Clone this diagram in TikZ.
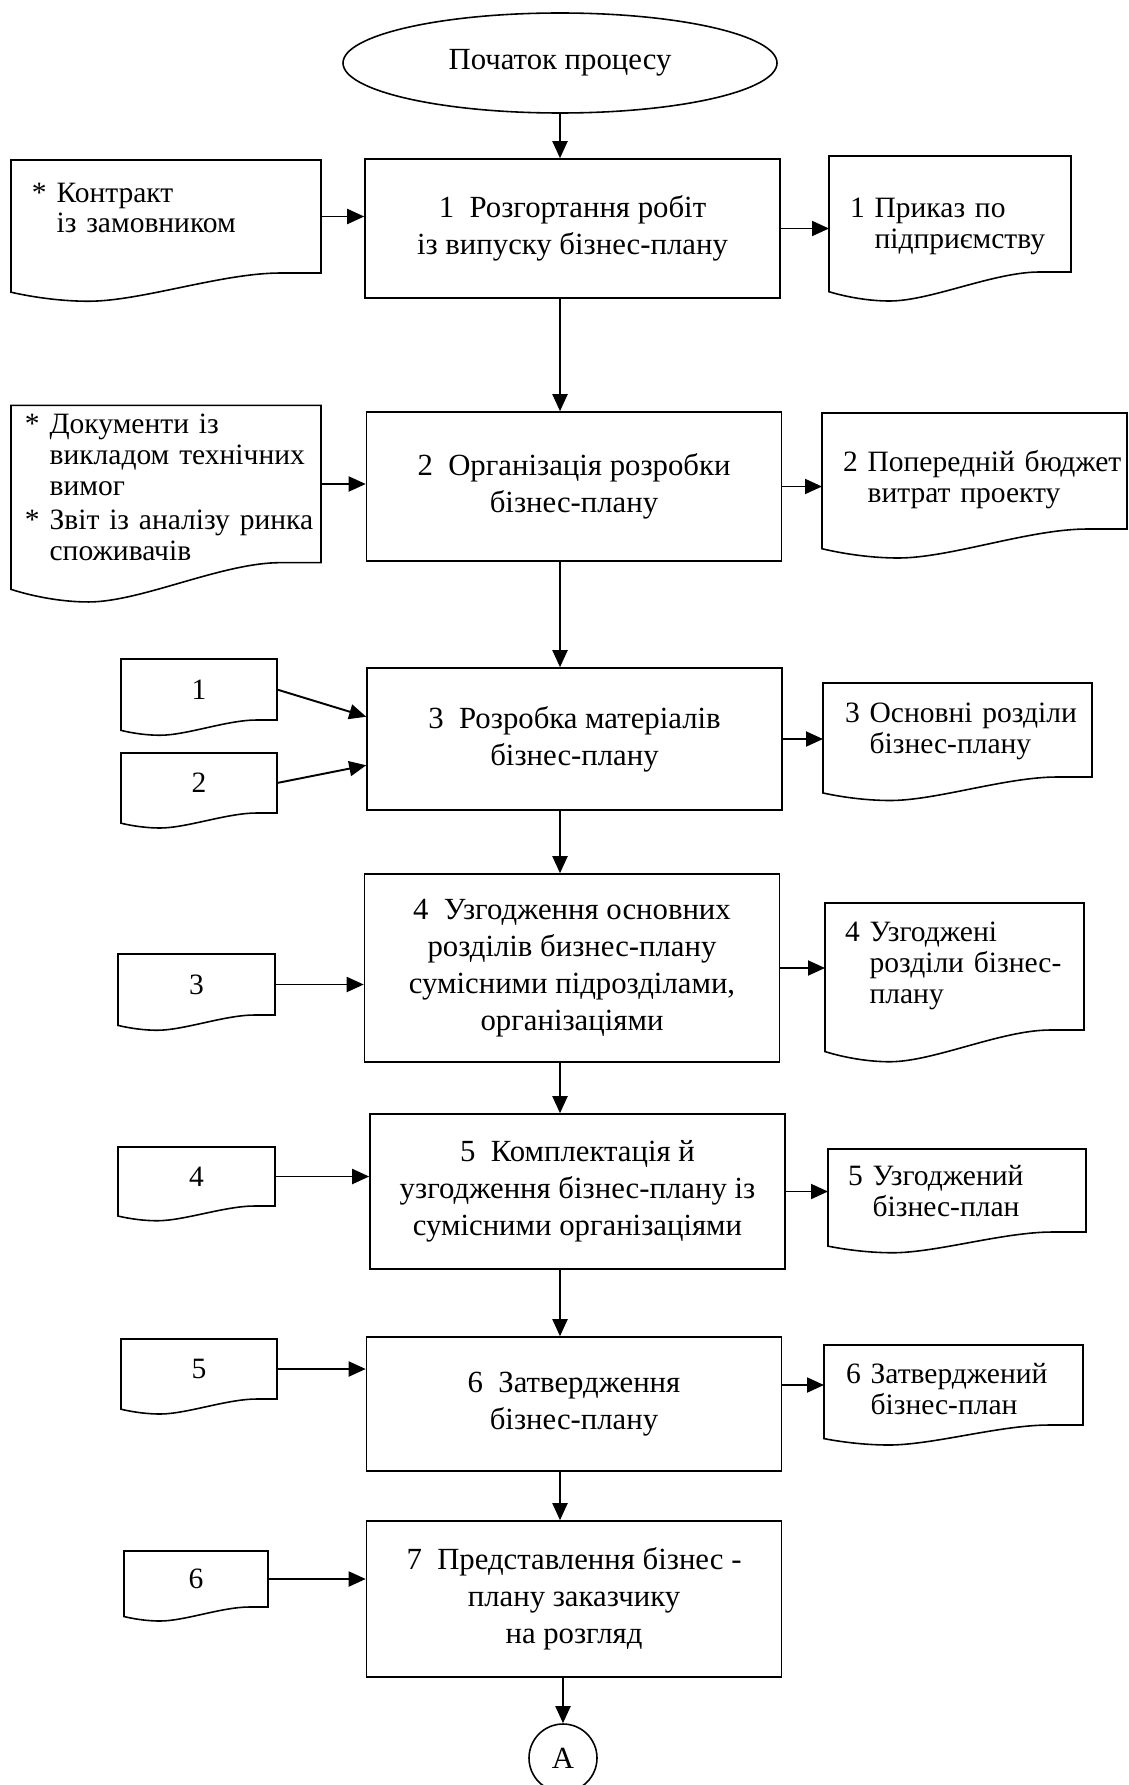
\documentclass[tikz,border=0pt]{standalone}
\usepackage{fontspec}
\setmainfont{Liberation Serif}
\usetikzlibrary{calc,arrows.meta,shapes.geometric}

\tikzset{
  procbox/.style={draw, rectangle, line width=0.9pt, minimum width=83mm, inner sep=0pt, align=center, font=\fontsize{17.5}{21}\selectfont},
  docbox/.style={rectangle, outer sep=0pt, inner sep=0pt, align=left, font=\fontsize{16.8}{17.5}\selectfont},
  arr/.style={-{Triangle[length=3.4mm,width=3mm]}, line width=1.1pt}
}

\newcommand{\docframe}[1]{%
  \draw[line width=0.9pt] let \p1=(#1.south west), \p2=(#1.north east), \n1={\x2-\x1}, \n2={\y2-\y1} in
    (\x2,\y1) -- (\x2,\y2) -- (\x1,\y2) -- (\x1,{\y1-0.17*\n2})
    .. controls ({\x1+0.08*\n1},{\y1-0.22*\n2}) and ({\x1+0.17*\n1},{\y1-0.25*\n2}) .. ({\x1+0.25*\n1},{\y1-0.25*\n2})
    .. controls ({\x1+0.42*\n1},{\y1-0.25*\n2}) and ({\x1+0.68*\n1},\y1) .. ({\x1+0.87*\n1},\y1) -- cycle;}
\newcommand{\dtxt}[2]{\raisebox{#1}[\height][\depth]{#2}}

\begin{document}
\begin{tikzpicture}[x=0.2mm,y=-0.2mm]
\useasboundingbox (0,0) rectangle (1128,1785);

\node[draw, ellipse, line width=0.9pt, minimum width=86.8mm, minimum height=20mm, inner sep=0pt, font=\fontsize{17.5}{21}\selectfont] (start) at (560,63) {Початок процесу};

\node[procbox, minimum height=27.8mm] (b1) at (572.5,228.5) {1~~Розгортання робіт\\із випуску бізнес-плану};
\node[procbox, minimum height=29.8mm] (b2) at (574,486.5) {2~~Організація розробки\\бізнес-плану};
\node[procbox, minimum height=28.4mm] (b3) at (574.5,739) {3~~Розробка матеріалів\\бізнес-плану};
\node[procbox, minimum height=37.6mm] (b4) at (572,968) {4~~Узгодження основних\\розділів бизнес-плану\\сумісними підрозділами,\\організаціями};
\node[procbox, minimum height=31mm] (b5) at (577.5,1191.5) {5~~Комплектація й\\узгодження бізнес-плану із\\сумісними організаціями};
\node[procbox, minimum height=26.8mm] (b6) at (574,1404) {6~~Затвердження\\бізнес-плану};
\node[procbox, minimum height=31.2mm] (b7) at (574,1599) {7~~Представлення бізнес -\\плану заказчику\\на розгляд};
\node[draw, circle, line width=0.9pt, minimum size=13.6mm, inner sep=0pt, font=\fontsize{17.5}{21}\selectfont] (conA) at (563,1758) {A};

\node[docbox, minimum width=62mm, minimum height=22.6mm, text width=53.6mm] (i1) at (166,216.5)
  {\dtxt{3pt}{\begin{tabular}{@{}l@{\ }l@{}}*&Контракт\\&із замовником\end{tabular}}};
\node[docbox, minimum width=62mm, minimum height=31.2mm, text width=56.4mm] (i2) at (166,484)
  {\dtxt{-4pt}{\begin{tabular}{@{}l@{\ }l@{}}*&Документи із\\&викладом технічних\\&вимог\\[2pt]*&Звіт із аналізу ринка\\&споживачів\end{tabular}}};

\node[docbox, minimum width=31.2mm, minimum height=12.2mm] (s1) at (199,689.5) {1};
\node[docbox, minimum width=31.2mm, minimum height=12mm] (s2) at (199,783) {2};
\node[docbox, minimum width=31.4mm, minimum height=12.2mm] (s3) at (196.5,984.5) {3};
\node[docbox, minimum width=31.4mm, minimum height=11.8mm] (s4) at (196.5,1176.5) {4};
\node[docbox, minimum width=31.2mm, minimum height=12mm] (s5) at (199,1369) {5};
\node[docbox, minimum width=28.8mm, minimum height=11.2mm] (s6) at (196,1579) {6};

\node[docbox, minimum width=48.4mm, minimum height=23.2mm, text width=40mm] (o1) at (950,214)
  {\dtxt{-7.5pt}{\begin{tabular}{@{}l@{\ }l@{}}1&Приказ по\\&підприємству\end{tabular}}};
\node[docbox, minimum width=61mm, minimum height=23.2mm, text width=52.6mm] (o2) at (974.5,471)
  {\dtxt{-5.5pt}{\begin{tabular}{@{}l@{\ }l@{}}2&Попередній бюджет\\&витрат проекту\end{tabular}}};
\node[docbox, minimum width=53.8mm, minimum height=18.8mm, text width=45mm] (o3) at (957.5,730)
  {\dtxt{-1pt}{\begin{tabular}{@{}l@{\ }l@{}}3&Основні розділи\\&бізнес-плану\end{tabular}}};
\node[docbox, minimum width=51.8mm, minimum height=25.4mm, text width=43.8mm] (o4) at (954.5,966.5)
  {\begin{tabular}{@{}l@{\ }l@{}}4&Узгоджені\\&розділи бізнес-\\&плану\end{tabular}};
\node[docbox, minimum width=51.6mm, minimum height=16.6mm, text width=43.6mm] (o5) at (957,1190.5)
  {\dtxt{-2.5pt}{\begin{tabular}{@{}l@{\ }l@{}}5&Узгоджений\\&бізнес-план\end{tabular}}};
\node[docbox, minimum width=51.8mm, minimum height=16mm, text width=43mm] (o6) at (953.5,1385)
  {\dtxt{-4.5pt}{\begin{tabular}{@{}l@{\ }l@{}}6&Затверджений\\&бізнес-план\end{tabular}}};

\foreach \nm in {i1,i2,s1,s2,s3,s4,s5,s6,o1,o2,o3,o4,o5,o6}
  \docframe{\nm};

\draw[arr] (start.south) -- (start.south |- b1.north);
\draw[arr] (b1.south -| start) -- (b2.north -| start);
\draw[arr] (b2.south -| start) -- (b3.north -| start);
\draw[arr] (b3.south -| start) -- (b4.north -| start);
\draw[arr] (b4.south -| start) -- (b5.north -| start);
\draw[arr] (b5.south -| start) -- (b6.north -| start);
\draw[arr] (b6.south -| start) -- (b7.north -| start);
\draw[arr] (b7.south -| conA) -- (conA.north);

\draw[arr] (i1.east) -- (i1.east -| b1.west);
\draw[arr] (i2.east) -- (i2.east -| b2.west);
\draw[arr] (s1.east) -- ($(b3.north west)!0.345!(b3.south west)$);
\draw[arr] (s2.east) -- ($(b3.north west)!0.683!(b3.south west)$);
\draw[arr] (s3.east) -- (s3.east -| b4.west);
\draw[arr] (s4.east) -- (s4.east -| b5.west);
\draw[arr] (s5.east) -- (s5.east -| b6.west);
\draw[arr] (s6.east) -- (s6.east -| b7.west);

\draw[arr] (b1.east) -- (b1.east -| o1.west);
\draw[arr] (b2.east) -- (b2.east -| o2.west);
\draw[arr] (b3.east) -- (b3.east -| o3.west);
\draw[arr] (b4.east) -- (b4.east -| o4.west);
\draw[arr] (b5.east) -- (b5.east -| o5.west);
\draw[arr] (o6.west -| b6.east) -- (o6.west);
\end{tikzpicture}
\end{document}
